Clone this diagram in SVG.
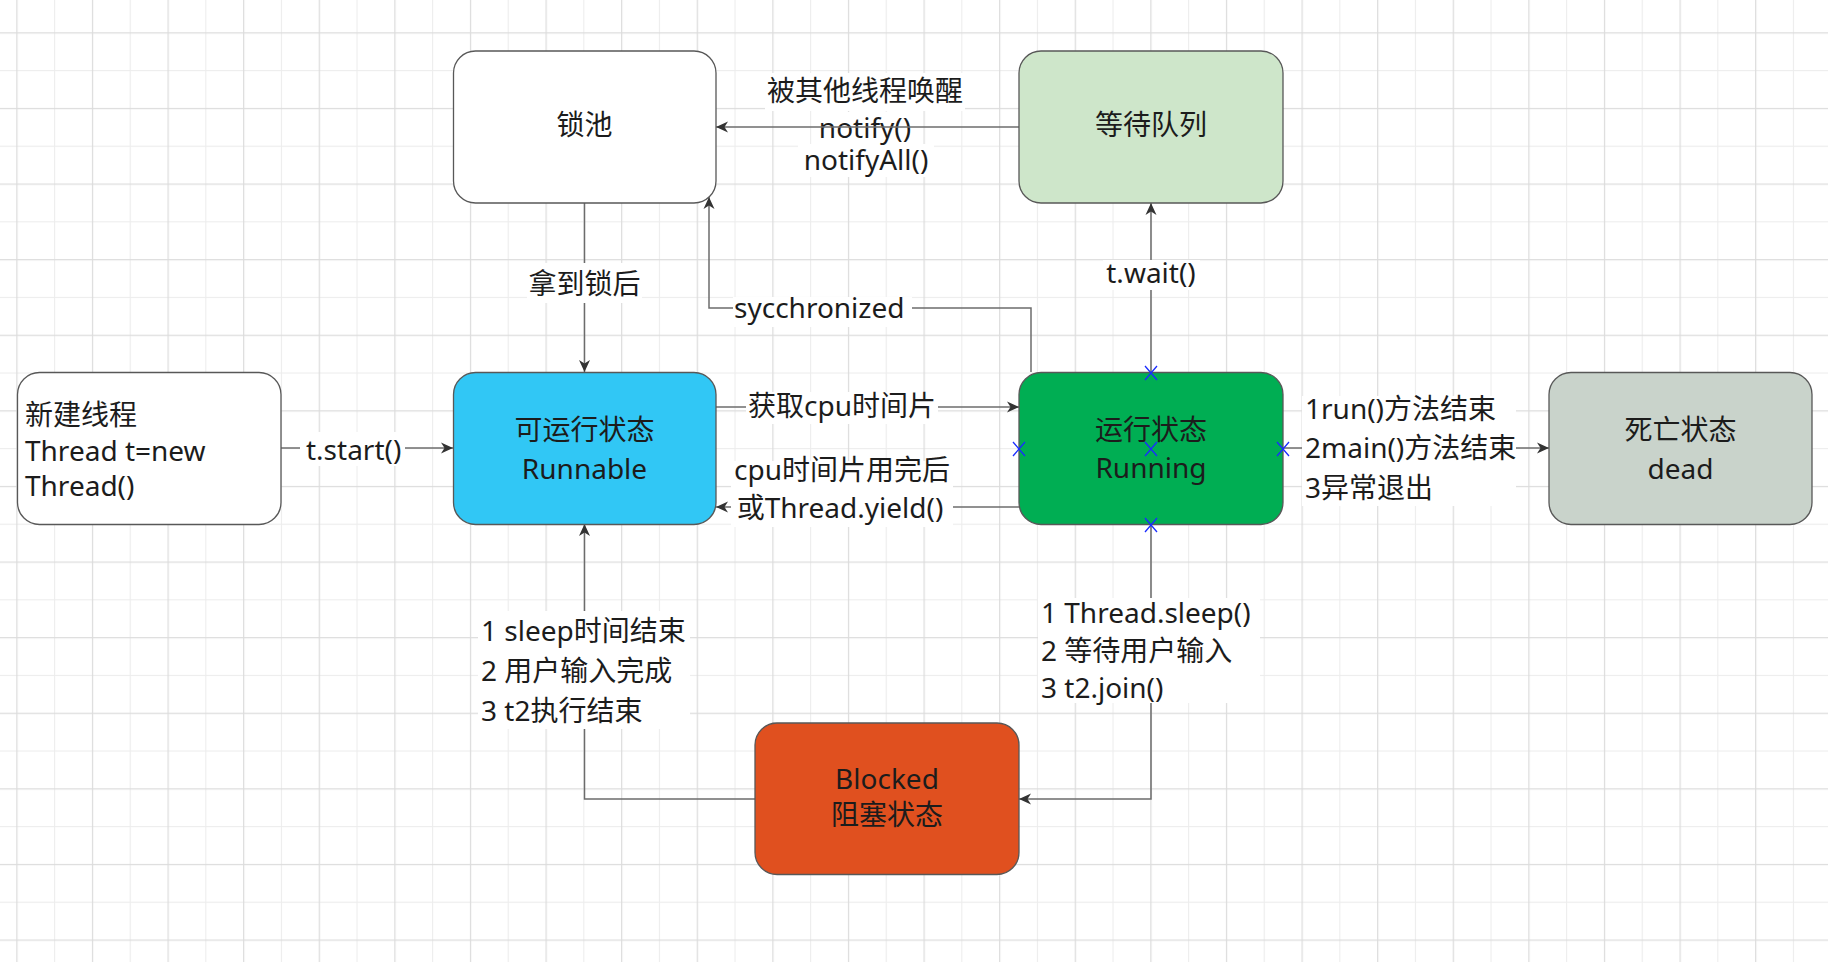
<svg xmlns="http://www.w3.org/2000/svg" width="1828" height="962" viewBox="0 0 1828 962">
<style>
.box{stroke:#585858;stroke-width:1.3}
.t{font-family:"Noto Sans","Noto Sans CJK SC",sans-serif;font-size:28px;fill:#1c1c1c}
.c{text-anchor:middle}
.edge{fill:none;stroke:#6c6c6c;stroke-width:1.5}
.bg{fill:#ffffff}
.h{stroke:#1a2cff;stroke-width:1.3;fill:none}
</style>
<defs>
<pattern id="grid" x="16.3" y="32.3" width="75.6" height="75.6" patternUnits="userSpaceOnUse">
<rect x="0" y="0" width="75.6" height="75.6" fill="#ffffff"/>
<rect x="37.8" y="0" width="1" height="75.6" fill="#ececec"/>
<rect x="0" y="37.8" width="75.6" height="1" fill="#ececec"/>
<rect x="0" y="0" width="1.2" height="75.6" fill="#dcdcdc"/>
<rect x="0" y="0" width="75.6" height="1.2" fill="#dcdcdc"/>
</pattern>
<marker id="arr" markerWidth="14" markerHeight="12" refX="12" refY="6" orient="auto" markerUnits="userSpaceOnUse">
<path d="M0,0.5 L12,6 L0,11.5 L3.5,6 Z" fill="#333333"/>
</marker>
</defs>
<rect x="0" y="0" width="1828" height="962" fill="url(#grid)"/>

<g id="label-notify">
<rect class="bg" x="765" y="73" width="200" height="38"/>
<rect class="bg" x="815" y="112" width="100" height="32"/>
<rect class="bg" x="798" y="144" width="136" height="33"/>
<text class="t c" x="865" y="101">被其他线程唤醒</text>
<text class="t c" x="865" y="138">notify()</text>
<text class="t c" x="866" y="170">notifyAll()</text>
</g>

<g id="connectors">
<path class="edge" d="M281,448 L453,448" marker-end="url(#arr)"/>
<path class="edge" d="M1019,127 L716,127" marker-end="url(#arr)"/>
<path class="edge" d="M584.5,203 L584.5,372" marker-end="url(#arr)"/>
<path class="edge" d="M1031,372 L1031,308 L709,308 L709,197" marker-end="url(#arr)"/>
<path class="edge" d="M716,407 L1019,407" marker-end="url(#arr)"/>
<path class="edge" d="M1019,507 L716,507" marker-end="url(#arr)"/>
<path class="edge" d="M1151,372 L1151,203" marker-end="url(#arr)"/>
<path class="edge" d="M1283,448 L1549,448" marker-end="url(#arr)"/>
<path class="edge" d="M1151,524 L1151,799 L1019,799" marker-end="url(#arr)"/>
<path class="edge" d="M755,799 L584.5,799 L584.5,524" marker-end="url(#arr)"/>
</g>

<g id="edge-labels">
<rect class="bg" x="300" y="432" width="105" height="34"/>
<text class="t" x="306" y="460">t.start()</text>
<rect class="bg" x="527" y="263" width="115" height="40"/>
<text class="t c" x="584.5" y="294">拿到锁后</text>
<rect class="bg" x="733" y="297" width="179" height="30"/>
<text class="t" x="734" y="318">sycchronized</text>
<rect class="bg" x="746" y="392" width="192" height="32"/>
<text class="t c" x="842" y="416">获取cpu时间片</text>
<rect class="bg" x="731" y="461" width="222" height="66"/>
<text class="t c" x="842" y="480">cpu时间片用完后</text>
<text class="t c" x="840" y="518">或Thread.yield()</text>
<rect class="bg" x="1103" y="260" width="97" height="30"/>
<text class="t c" x="1151" y="283">t.wait()</text>
<rect class="bg" x="1302" y="396" width="214" height="110"/>
<text class="t" x="1305" y="419">1run()方法结束</text>
<text class="t" x="1305" y="458">2main()方法结束</text>
<text class="t" x="1305" y="498">3异常退出</text>
<rect class="bg" x="478" y="611" width="212" height="118"/>
<text class="t" x="481" y="641">1 sleep时间结束</text>
<text class="t" x="481" y="681">2 用户输入完成</text>
<text class="t" x="481" y="721">3 t2执行结束</text>
<rect class="bg" x="1038" y="598" width="222" height="105"/>
<text class="t" x="1041" y="623">1 Thread.sleep()</text>
<text class="t" x="1041" y="661">2 等待用户输入</text>
<text class="t" x="1041" y="698">3 t2.join()</text>
</g>

<g id="node-lockpool">
<rect class="box" x="453.5" y="51" width="262.5" height="152" rx="22" fill="#ffffff"/>
<text class="t c" x="584.5" y="135">锁池</text>
</g>
<g id="node-waitqueue">
<rect class="box" x="1019" y="51" width="264" height="152" rx="22" fill="#cee6ca"/>
<text class="t c" x="1151" y="135">等待队列</text>
</g>
<g id="node-new">
<rect class="box" x="17.5" y="372.5" width="263.5" height="152" rx="22" fill="#ffffff"/>
<text class="t" x="25" y="425">新建线程</text>
<text class="t" x="25" y="461">Thread t=new</text>
<text class="t" x="25" y="496">Thread()</text>
</g>
<g id="node-runnable">
<rect class="box" x="453.5" y="372.5" width="262.5" height="152" rx="22" fill="#31c7f5"/>
<text class="t c" x="584.5" y="440">可运行状态</text>
<text class="t c" x="584.5" y="479">Runnable</text>
</g>
<g id="node-running">
<rect class="box" x="1019" y="372.5" width="264" height="152" rx="22" fill="#00ae53"/>
<text class="t c" x="1151" y="440">运行状态</text>
<text class="t c" x="1151" y="478">Running</text>
</g>
<g id="node-dead">
<rect class="box" x="1549" y="372.5" width="263" height="152" rx="22" fill="#c9d3cb"/>
<text class="t c" x="1680.5" y="440">死亡状态</text>
<text class="t c" x="1680.5" y="479">dead</text>
</g>
<g id="node-blocked">
<rect class="box" x="755" y="723" width="264" height="151.5" rx="22" fill="#e0501f"/>
<text class="t c" x="887" y="789">Blocked</text>
<text class="t c" x="887" y="825">阻塞状态</text>
</g>

<g id="handles">
<path class="h" d="M1145,366 L1157,380 M1157,366 L1145,380"/>
<path class="h" d="M1013,442 L1025,456 M1025,442 L1013,456"/>
<path class="h" d="M1145,442 L1157,456 M1157,442 L1145,456"/>
<path class="h" d="M1277,442 L1289,456 M1289,442 L1277,456"/>
<path class="h" d="M1145,518 L1157,532 M1157,518 L1145,532"/>
</g>
</svg>
